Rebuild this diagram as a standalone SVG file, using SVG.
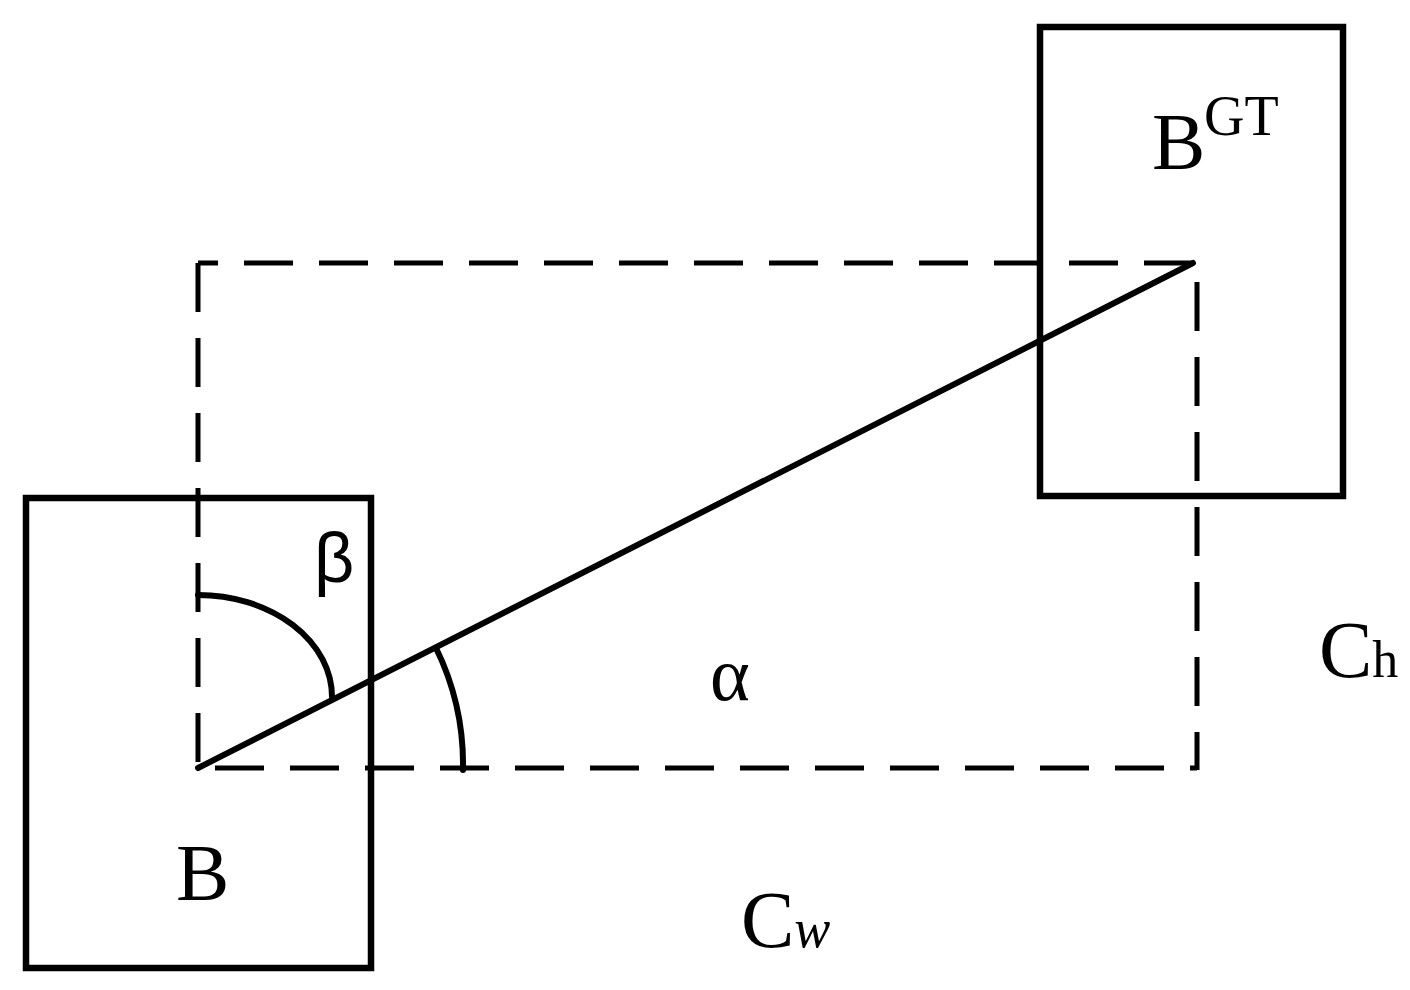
<svg xmlns="http://www.w3.org/2000/svg" width="1410" height="990" viewBox="0 0 1410 990">
<style>
.box{fill:none;stroke:#000;stroke-width:6.5}
.dash{fill:none;stroke:#000;stroke-width:5;stroke-dasharray:49 26}
.solid{fill:none;stroke:#000;stroke-width:6;stroke-linecap:round}
.lbl{font-family:"Liberation Serif","Times New Roman",serif;fill:#000}
.greek{font-family:"Liberation Sans",Arial,sans-serif;fill:#000}
</style>
<rect width="1410" height="990" fill="#fff"/>
<g id="box-B">
<rect class="box" x="26" y="498" width="345" height="470"/>
<text class="lbl" x="176" y="900" font-size="80">B</text>
</g>
<g id="box-BGT">
<rect class="box" x="1040" y="27" width="303" height="469"/>
<text class="lbl" x="1152" y="169" font-size="80">B</text>
<text class="lbl" x="1204" y="135" font-size="56">GT</text>
</g>
<g id="connectors">
<line class="dash" x1="198" y1="263" x2="1193" y2="263" stroke-dashoffset="29"/>
<line class="dash" x1="198" y1="263" x2="198" y2="768"/>
<line class="dash" x1="198" y1="768" x2="1197" y2="768" stroke-dashoffset="58"/>
<line class="dash" x1="1197" y1="263" x2="1197" y2="770" stroke-dashoffset="56"/>
<line class="solid" x1="198" y1="768" x2="1193" y2="263"/>
<path class="solid" d="M198,595 A134,102 0 0 1 332,697" stroke-width="5"/>
<path class="solid" d="M436,648 A265,265 0 0 1 463,770" stroke-width="5" stroke-linecap="butt"/>
</g>
<g id="labels">
<text class="greek" x="314" y="582" font-size="70">β</text>
<text class="lbl" x="710" y="700" font-size="76">α</text>
<text class="lbl" x="1319" y="677" font-size="80">C<tspan font-size="52">h</tspan></text>
<text class="lbl" x="741" y="947" font-size="80">C<tspan font-size="54" font-style="italic">w</tspan></text>
</g>
</svg>
